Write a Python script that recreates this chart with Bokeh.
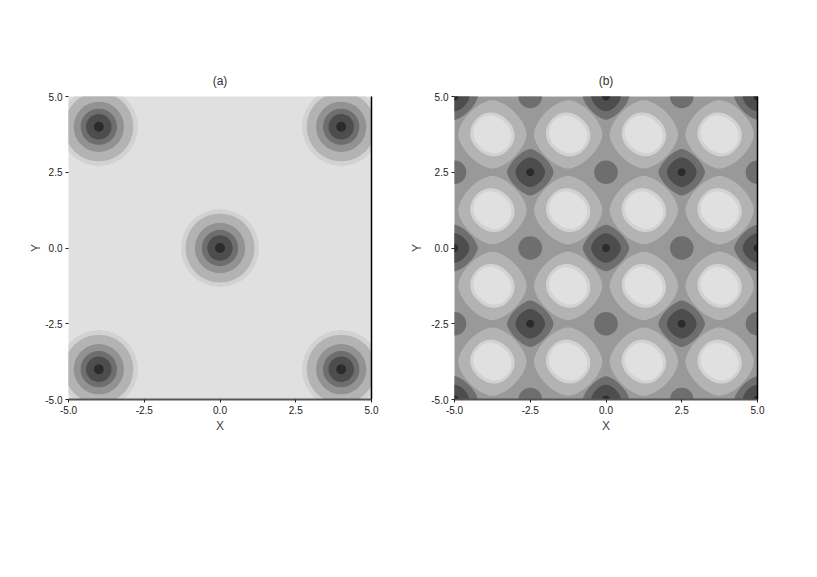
from bokeh.embed import file_html
from bokeh.resources import INLINE
from bokeh.layouts import row
from bokeh.models import LinearAxis, FixedTicker, Range1d, Title
from bokeh.plotting import figure
import numpy as np

# contour level colours, low values (dark) to high values (light)
LEVEL_CORE = "#2b2b2b"
LEVEL_1 = "#4d4d4d"
LEVEL_2 = "#6e6e6e"
LEVEL_3 = "#999999"
LEVEL_4 = "#b3b3b3"
LEVEL_5 = "#d2d2d2"
LEVEL_6 = "#e0e0e0"

ticks = [-5.0, -2.5, 0.0, 2.5, 5.0]
tick_labels = {-5: "-5.0", -2.5: "-2.5", 0: "0.0", 2.5: "2.5", 5: "5.0"}

# panel (a): wells and radius of each filled contour band
a_centres_x = [-4.0, 4.0, 0.0, -4.0, 4.0]
a_centres_y = [4.0, 4.0, 0.0, -4.0, -4.0]
a_band_radius = [1.29, 1.14, 0.83, 0.60, 0.42, 0.165]
a_band_color = [LEVEL_5, LEVEL_4, "#929292", LEVEL_2, LEVEL_1, LEVEL_CORE]

# panel (b): light lobes (maxima)
b_lobe_x = [-3.75, -1.25, 1.25, 3.75]
b_lobe_y = [3.75, 1.25, -1.25, -3.75]
# half width, half height, squareness exponent, tilt in degrees, colour
b_lobe_bands = [(1.13, 1.13, 1.6, 0, LEVEL_4), (0.73, 0.68, 2.2, -40, LEVEL_5), (0.64, 0.57, 2.2, -40, LEVEL_6)]

# panel (b): deep wells at even lattice nodes
b_deep_x = [-5.0, -5.0, -5.0, -2.5, -2.5, 0.0, 0.0, 0.0, 2.5, 2.5, 5.0, 5.0, 5.0]
b_deep_y = [5.0, 0.0, -5.0, 2.5, -2.5, 5.0, 0.0, -5.0, 2.5, -2.5, 5.0, 0.0, -5.0]
b_deep_bands = [(0.77, 0.77, 1.45, 0, LEVEL_2), (0.49, 0.49, 1.65, 0, LEVEL_1), (0.13, 0.13, 2.0, 0, LEVEL_CORE)]

# panel (b): shallow wells at odd lattice nodes
b_shallow_x = [-5.0, -5.0, -2.5, -2.5, -2.5, 0.0, 0.0, 2.5, 2.5, 2.5, 5.0, 5.0]
b_shallow_y = [2.5, -2.5, 5.0, 0.0, -5.0, 2.5, -2.5, 5.0, 0.0, -5.0, 2.5, -2.5]
b_shallow_radius = 0.39


def outline(cx, cy, a, b, n, tilt):
    t = np.linspace(0, 2 * np.pi, 181)
    c, s = np.cos(t), np.sin(t)
    x = a * np.sign(c) * np.abs(c) ** (2 / n)
    y = b * np.sign(s) * np.abs(s) ** (2 / n)
    th = np.radians(tilt)
    return (cx + x * np.cos(th) - y * np.sin(th)).tolist(), (cy + x * np.sin(th) + y * np.cos(th)).tolist()


def make(title, left, right, title_offset, label_standoff):
    p = figure(width=left + 303 + right, height=96 + 303 + 60, output_backend="svg", toolbar_location=None,
               x_range=Range1d(-5, 5), y_range=Range1d(-5, 5), min_border_left=left, min_border_right=right,
               min_border_top=96, min_border_bottom=60, x_axis_label="X", y_axis_label="Y",
               outline_line_color=None)
    p.grid.visible = False
    t = Title(text=title, align="center", offset=title_offset, text_font="Liberation Sans", text_font_size="12px",
              text_font_style="normal", text_color="#333333", standoff=17)
    p.add_layout(t, "above")
    for ax, line in ((p.xaxis[0], "#555555"), (p.yaxis[0], None)):
        ax.ticker = FixedTicker(ticks=ticks)
        ax.major_label_overrides = tick_labels
        ax.minor_tick_line_color = None
        ax.major_tick_in = 0
        ax.major_tick_out = 3
        ax.major_tick_line_color = "#222222"
        ax.axis_line_color = line
        ax.axis_line_width = 2
        ax.major_label_text_font = "Liberation Sans"
        ax.major_label_text_font_size = "10px"
        ax.major_label_text_color = "#222222"
        ax.major_label_standoff = 3
        ax.axis_label_text_font = "Liberation Sans"
        ax.axis_label_text_font_size = "12px"
        ax.axis_label_text_font_style = "normal"
        ax.axis_label_text_color = "#444444"
        ax.axis_label_standoff = 2
    p.yaxis[0].axis_label_standoff = label_standoff
    r = LinearAxis(ticker=FixedTicker(ticks=[]), axis_line_color="#000000", axis_line_width=1.5,
                   major_label_text_font_size="0px")
    p.add_layout(r, "right")
    return p


pa = make("(a)", 68, 33, 1, -1)
pa.background_fill_color = LEVEL_6
for rad, col in zip(a_band_radius, a_band_color):
    pa.circle(a_centres_x, a_centres_y, radius=rad, fill_color=col, line_color=None)

pb = make("(b)", 50, 40, -4, 4)
pb.background_fill_color = LEVEL_3
for a, b, n, tilt, col in b_lobe_bands:
    xs, ys = [], []
    for cx in b_lobe_x:
        for cy in b_lobe_y:
            ox, oy = outline(cx, cy, a, b, n, tilt)
            xs.append(ox); ys.append(oy)
    pb.patches(xs, ys, fill_color=col, line_color=None)
pb.circle(b_shallow_x, b_shallow_y, radius=b_shallow_radius, fill_color=LEVEL_2, line_color=None)
for a, b, n, tilt, col in b_deep_bands:
    xs, ys = [], []
    for cx, cy in zip(b_deep_x, b_deep_y):
        ox, oy = outline(cx, cy, a, b, n, tilt)
        xs.append(ox); ys.append(oy)
    pb.patches(xs, ys, fill_color=col, line_color=None)

layout = row(pa, pb, spacing=0)
open("out.html", "w").write(file_html(layout, INLINE))
